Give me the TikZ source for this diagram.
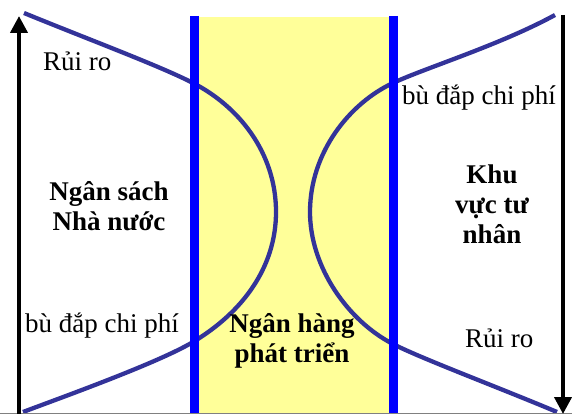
\documentclass[tikz,border=0pt]{standalone}
\usepackage{fontspec}
\setmainfont{Liberation Serif}
\usetikzlibrary{arrows.meta}
\definecolor{curveblue}{HTML}{333399}
\definecolor{barblue}{HTML}{0000FF}
\definecolor{paleyellow}{HTML}{FFFF99}
\tikzset{
  curve/.style={draw=curveblue, line width=4.3pt, line join=round},
  bar/.style={draw=barblue, line width=9pt},
  axis/.style={draw=black, line width=4pt, -{Triangle[width=17pt,length=17pt]}},
  lbl/.style={inner sep=0pt, font=\fontsize{27}{30}\selectfont},
  blbl/.style={inner sep=0pt, align=center, font=\fontsize{27}{30}\selectfont\bfseries},
}
\begin{document}
\begin{tikzpicture}[x=1pt,y=-1pt]
\useasboundingbox (0,0) rectangle (572,414);
% yellow band
\fill[paleyellow] (194,17) rectangle (393,414);
% curve points
\coordinate (la) at (24,13);  \coordinate (lb) at (193,83);
\coordinate (lv) at (276,212); \coordinate (lc) at (193,342);
\coordinate (ld) at (23,412);
\coordinate (ra) at (555,15); \coordinate (rb) at (393,83);
\coordinate (rv) at (310,212); \coordinate (rc) at (393,344);
\coordinate (rd) at (557,412);
% curves
\draw[curve] (la) .. controls (90,40) and (160,66) .. (lb)
  .. controls (238,106) and (276,152) .. (lv)
  .. controls (276,267) and (243,312) .. (lc)
  .. controls (158,363) and (60,398) .. (ld);
\draw[curve] (ra) .. controls (500,45) and (425,68) .. (rb)
  .. controls (350,103) and (310,152) .. (rv)
  .. controls (310,267) and (348,321) .. (rc)
  .. controls (420,358) and (500,388) .. (rd);
% bars
\coordinate (bl1) at (194,16); \coordinate (bl2) at (194,414);
\coordinate (br1) at (393.5,16); \coordinate (br2) at (393.5,414);
\draw[bar] (bl1) -- (bl2);
\draw[bar] (br1) -- (br2);
% bottom gray line
\coordinate (g1) at (0,413.3); \coordinate (g2) at (572,413.3);
\draw[gray, line width=1.4pt] (g1) -- (g2);
% axes
\coordinate (al1) at (19,414); \coordinate (al2) at (19,16);
\coordinate (ar1) at (563,15); \coordinate (ar2) at (563,414);
\draw[axis] (al1) -- (al2);
\draw[axis] (ar1) -- (ar2);
% labels
\node[lbl, anchor=base west] (r1) at (43,71) {Rủi ro};
\node[lbl, anchor=base west] (b1) at (402,105) {bù đắp chi phí};
\node[lbl, anchor=base west] (b2) at (25,332) {bù đắp chi phí};
\node[lbl, anchor=base west] (r2) at (465,347) {Rủi ro};
\node[blbl] (ns) at (109,206) {Ngân sách\\Nhà nước};
\node[blbl] (kv) at (492,204) {Khu\\vực tư\\nhân};
\node[blbl] (nh) at (292,341) {Ngân hàng\\phát triển};
\end{tikzpicture}
\end{document}
